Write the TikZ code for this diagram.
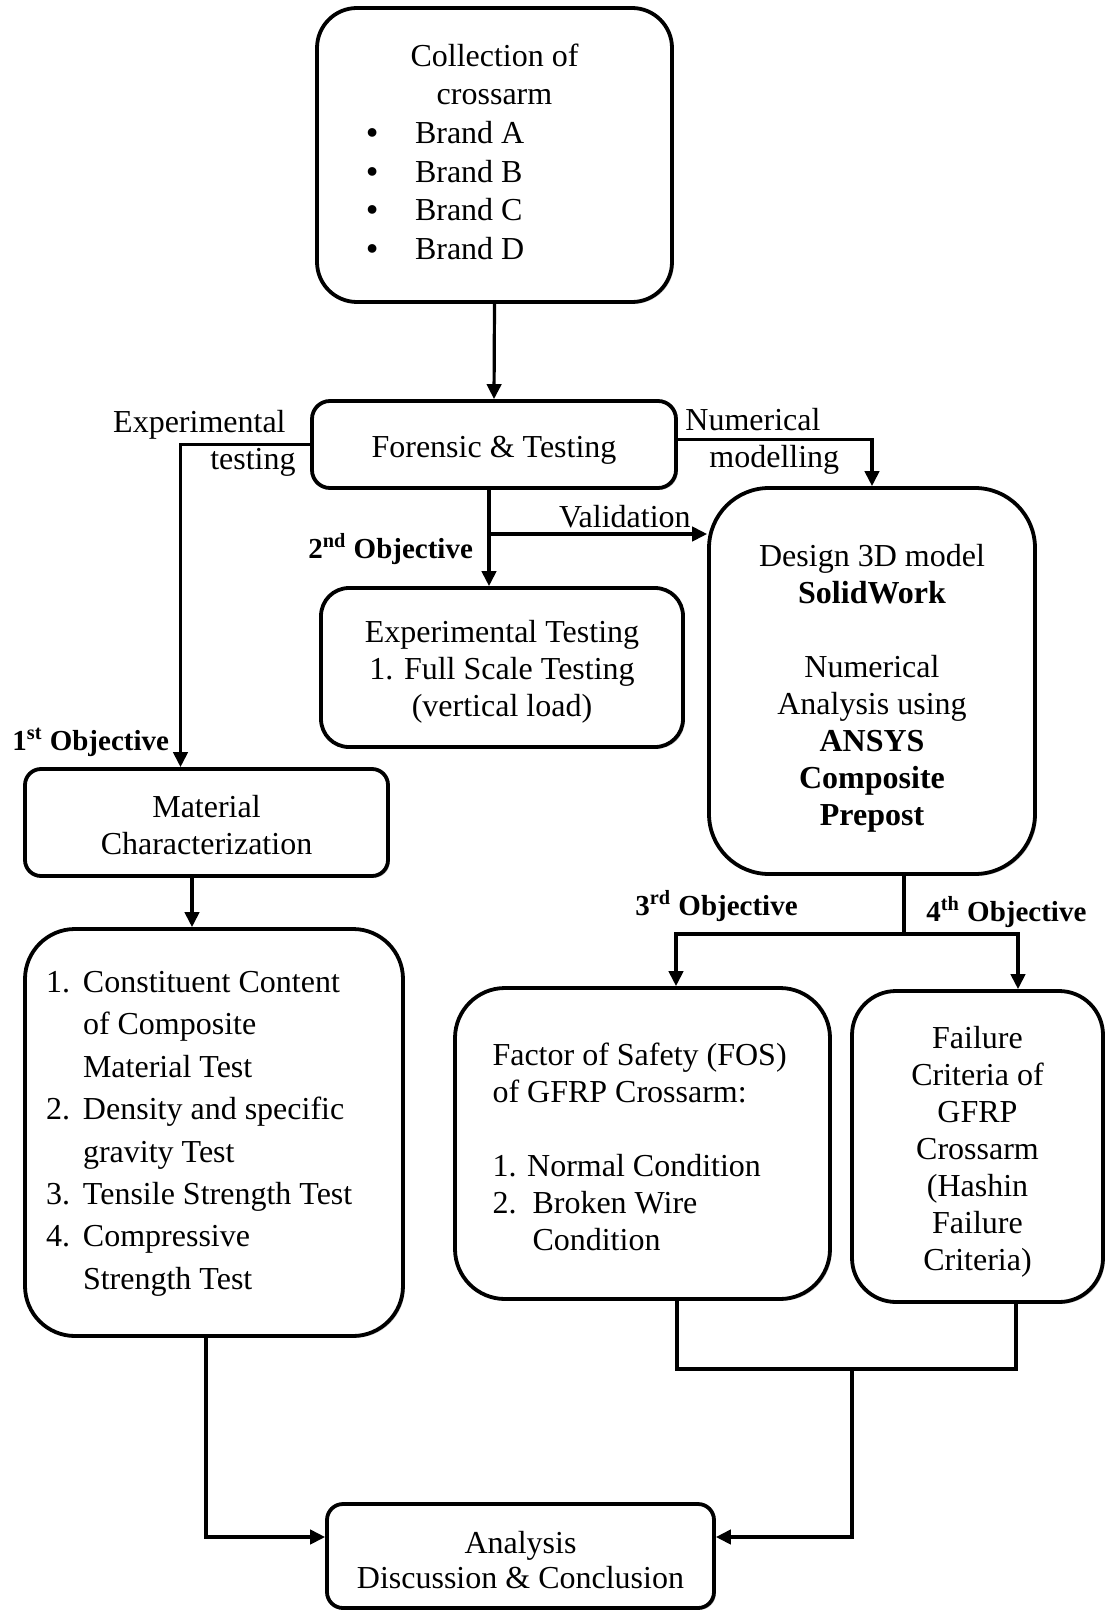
\documentclass[tikz,border=0pt]{standalone}
\usepackage{fontspec}
\setmainfont{Liberation Serif}
\usetikzlibrary{arrows.meta,calc,shadows}
\newcommand\tfix[1]{\rule{0pt}{#1}}
\begin{document}
\begin{tikzpicture}[x=0.5pt,y=-0.5pt,
  box/.style={draw, fill=white, line width=1.9pt, rounded corners=#1, inner sep=0pt, align=center,
    font=\fontsize{16}{18.5}\selectfont,
    drop shadow={shadow xshift=0.9pt, shadow yshift=-0.9pt, fill=black, opacity=0.22}},
  box/.default=10pt,
  conn/.style={line width=1.6pt},
  arr/.style={conn, -{Triangle[length=7.5pt,width=7.2pt]}},
  lbl/.style={inner sep=0pt, font=\fontsize{16}{18.5}\selectfont},
  obj/.style={inner sep=0pt, font=\fontsize{14.5}{17}\selectfont\bfseries},
]
\useasboundingbox (0,0) rectangle (1105,1610);

% boxes
\node[box=20pt, minimum width=177.5pt, minimum height=147pt] (collection) at (494.5,155)
  {\fontsize{16}{19.3}\selectfont\begin{tabular}{@{}p{24.25pt}@{}p{103.75pt}@{}}
   \multicolumn{2}{@{}c@{}}{Collection of}\\
   \multicolumn{2}{@{}c@{}}{crossarm}\\
   \textbf{\textbullet} & Brand A\\
   \textbf{\textbullet} & Brand B\\
   \textbf{\textbullet} & Brand C\\
   \textbf{\textbullet} & Brand D
   \end{tabular}};

\node[box=9pt, minimum width=182pt, minimum height=43.5pt] (forensic) at (494,444.5) {\tfix{16pt}Forensic \& Testing};

\node[box=14pt, minimum width=181pt, minimum height=79.5pt] (exptest) at (502,667.5)
  {\tfix{15pt}Experimental Testing\\1. Full Scale Testing\\(vertical load)};

\node[box=30pt, minimum width=163pt, minimum height=193pt] (design) at (872,681)
  {\tfix{18pt}Design 3D model\\\textbf{SolidWork}\\[18.5pt]Numerical\\Analysis using\\\textbf{ANSYS}\\\textbf{Composite}\\\textbf{Prepost}};

\node[box=8pt, minimum width=181.5pt, minimum height=53.5pt] (material) at (206.5,822.5)
  {\tfix{14pt}Material\\Characterization};

\node[box=25pt, minimum width=189pt, minimum height=203.5pt] (list) at (214,1132.5)
  {\fontsize{16}{21.2}\selectfont\begin{tabular}{@{}p{18.5pt}@{}p{149.5pt}@{}}
   1. & Constituent Content\\
      & of Composite\\
      & Material Test\\
   2. & Density and specific\\
      & gravity Test\\
   3. & Tensile Strength Test\\
   4. & Compressive\\
      & Strength Test
   \end{tabular}};

\node[box=25pt, minimum width=187.5pt, minimum height=155.5pt] (fos) at (642.5,1143.5)
  {\begin{tabular}{@{}p{150pt}@{}}
   \tfix{20.5pt}Factor of Safety (FOS)\\
   of GFRP Crossarm:\\[18.5pt]
   1. Normal Condition\\
   2.\hspace{8pt}Broken Wire\\
   \hspace*{20pt}Condition
   \end{tabular}};

\node[box=22pt, minimum width=125.5pt, minimum height=155.5pt] (failure) at (977.5,1146.5)
  {\tfix{16pt}Failure\\Criteria of\\GFRP\\Crossarm\\(Hashin\\Failure\\Criteria)};

\node[box=8pt, minimum width=193.5pt, minimum height=52pt] (analysis) at (520.5,1556)
  {\tfix{15pt}Analysis\\[-1pt]Discussion \& Conclusion};

% connectors
\draw[arr] (collection.south) -- (forensic.north);
\draw[arr] (forensic.west) -| ([xshift=-13pt]material.north);
\draw[arr] ([yshift=2.5pt]forensic.east) -| (design.north);
\draw[arr] ([xshift=-2.5pt]forensic.south) -- ([xshift=-2.5pt]forensic.south |- exptest.north);
\coordinate (vb) at (489,534);
\draw[arr] (vb) -- (vb -| design.west);
\draw[arr] ([xshift=-7.25pt]material.south) -- ([xshift=-7.25pt]material.south |- list.north);

\coordinate (split) at (904,934);
\coordinate (s3) at (676,934);
\coordinate (s4) at (1018,934);
\draw[conn] (split |- design.south) -- (split);
\draw[arr] (split) -- (s3) -- (s3 |- fos.north);
\draw[arr] (split) -- (s4) -- (s4 |- failure.north);

\coordinate (j3) at (677,1369);
\coordinate (j4) at (1016,1369);
\coordinate (jm) at (852,1369);
\draw[conn] (j3 |- fos.south) -- (j3) -- (j4) -- (j4 |- failure.south);
\draw[arr] (jm) |- ([yshift=9.5pt]analysis.east);
\draw[arr] ([xshift=-4pt]list.south) |- ([yshift=9.5pt]analysis.west);

% labels
\node[lbl, anchor=east, align=right] (explbl) at (296,443) {Experimental\kern5pt\\testing};
\node[lbl, anchor=west, align=left] (numlbl) at (685,441) {Numerical\\\hspace*{12pt}modelling};
\node[lbl, anchor=base east] (vallbl) at (691,527) {Validation};
\node[obj, anchor=base west] (obj1) at (12,750) {1\textsuperscript{st} Objective};
\node[obj, anchor=base west] (obj2) at (308,558) {2\textsuperscript{nd} Objective};
\node[obj, anchor=base west] (obj3) at (635,915) {3\textsuperscript{rd} Objective};
\node[obj, anchor=base west] (obj4) at (926,921) {4\textsuperscript{th} Objective};
\end{tikzpicture}
\end{document}
